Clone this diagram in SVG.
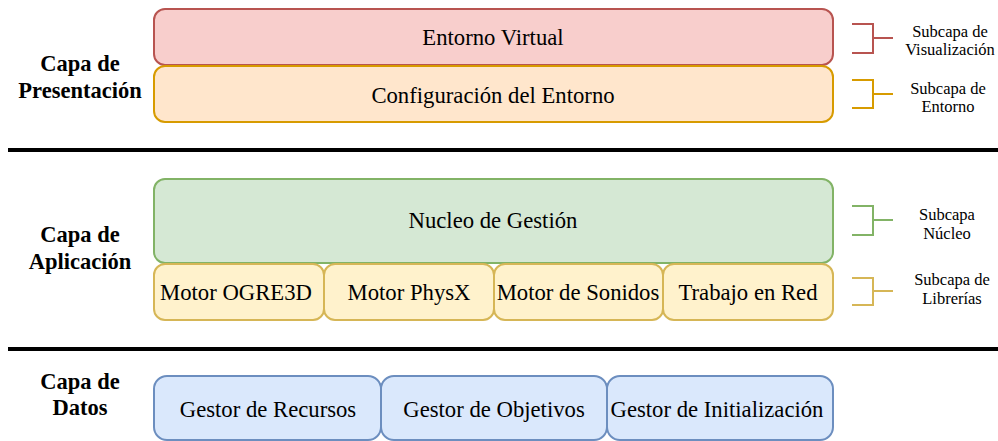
<svg xmlns="http://www.w3.org/2000/svg" width="998" height="441" viewBox="0 0 998 441">
<style>
.box{stroke-width:2}
.red{fill:#f8cecc;stroke:#b85450}
.org{fill:#ffe6cc;stroke:#d79b00}
.grn{fill:#d5e8d4;stroke:#82b366}
.yel{fill:#fff2cc;stroke:#d6b656}
.blu{fill:#dae8fc;stroke:#6c8ebf}
.t{font-family:"Liberation Serif","Times New Roman",serif;font-size:22.7px;fill:#000;text-anchor:middle;dominant-baseline:central}
.lbl{font-family:"Liberation Serif","Times New Roman",serif;font-size:22.5px;font-weight:bold;fill:#000;text-anchor:middle;dominant-baseline:central}
.sub{font-family:"Liberation Serif","Times New Roman",serif;font-size:16.5px;fill:#000;text-anchor:middle;dominant-baseline:central}
.br{fill:none;stroke-width:2}
.sep{stroke:#000;stroke-width:4}
</style>
<g id="labels">
<text class="lbl" x="80" y="63">Capa de</text>
<text class="lbl" x="80" y="90">Presentación</text>
<text class="lbl" x="80" y="234">Capa de</text>
<text class="lbl" x="80" y="261">Aplicación</text>
<text class="lbl" x="80" y="381">Capa de</text>
<text class="lbl" x="80" y="407">Datos</text>
</g>
<g id="separators">
<line class="sep" x1="8" y1="150" x2="998" y2="150"/>
<line class="sep" x1="8" y1="349" x2="998" y2="349"/>
</g>
<g id="entorno-virtual"><rect class="box red" x="154" y="9" width="679" height="56" rx="11"/><text class="t" x="493" y="37">Entorno Virtual</text></g>
<g id="configuracion"><rect class="box org" x="154" y="66" width="679" height="56" rx="11"/><text class="t" x="493" y="95">Configuración del Entorno</text></g>
<g id="nucleo"><rect class="box grn" x="154" y="179" width="679" height="84" rx="11"/><text class="t" x="493" y="220">Nucleo de Gestión</text></g>
<g id="ogre"><rect class="box yel" x="154" y="264" width="170" height="56" rx="11"/><text class="t" x="236" y="292">Motor OGRE3D</text></g>
<g id="physx"><rect class="box yel" x="324" y="264" width="170" height="56" rx="11"/><text class="t" x="409" y="292">Motor PhysX</text></g>
<g id="sonidos"><rect class="box yel" x="494" y="264" width="169" height="56" rx="11"/><text class="t" x="578" y="292">Motor de Sonidos</text></g>
<g id="red"><rect class="box yel" x="663" y="264" width="170" height="56" rx="11"/><text class="t" x="748" y="292">Trabajo en Red</text></g>
<g id="recursos"><rect class="box blu" x="154" y="376" width="227" height="64" rx="13"/><text class="t" x="268" y="409">Gestor de Recursos</text></g>
<g id="objetivos"><rect class="box blu" x="381" y="376" width="226" height="64" rx="13"/><text class="t" x="494" y="409">Gestor de Objetivos</text></g>
<g id="initializacion"><rect class="box blu" x="607" y="376" width="226" height="64" rx="13"/><text class="t" x="717" y="409">Gestor de Initialización</text></g>
<g id="connectors">
<path class="br" stroke="#b85450" d="M852,24 H873 V53 H852 M873,38 H893"/>
<path class="br" stroke="#d79b00" d="M852,80 H873 V108 H852 M873,94 H893"/>
<path class="br" stroke="#82b366" d="M852,206 H873 V235 H852 M873,220 H893"/>
<path class="br" stroke="#d6b656" d="M852,278 H873 V305 H852 M873,291 H893"/>
</g>
<g id="sublabels">
<text class="sub" x="950" y="31">Subcapa de</text>
<text class="sub" x="950" y="49">Visualización</text>
<text class="sub" x="948" y="88">Subcapa de</text>
<text class="sub" x="948" y="106">Entorno</text>
<text class="sub" x="947" y="214">Subcapa</text>
<text class="sub" x="947" y="233">Núcleo</text>
<text class="sub" x="952" y="279">Subcapa de</text>
<text class="sub" x="952" y="298">Librerías</text>
</g>
</svg>
